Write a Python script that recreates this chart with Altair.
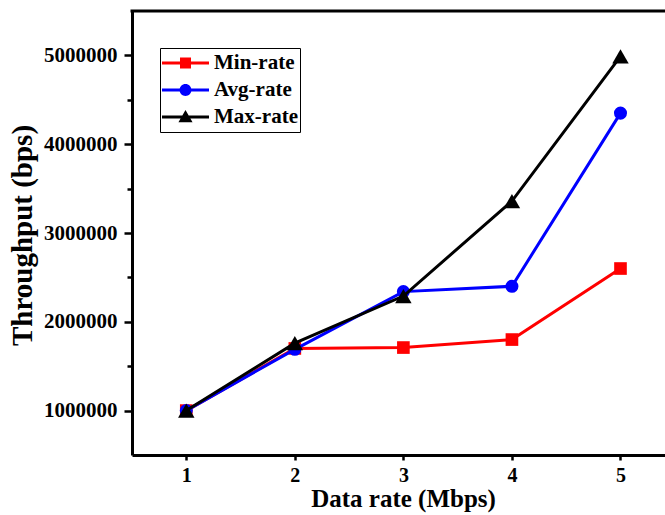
import altair as alt
import pandas as pd

# Throughput measured at each data rate
rates = [1, 2, 3, 4, 5]
min_rate = [1000000, 1700000, 1710000, 1800000, 2600000]
avg_rate = [1000000, 1690000, 2340000, 2400000, 4350000]
max_rate = [1000000, 1760000, 2290000, 3360000, 4990000]

series_names = ["Min-rate", "Avg-rate", "Max-rate"]
series_colors = ["#ff0000", "#0000ff", "#000000"]
series_shapes = ["square", "circle", "triangle-up"]
series_sizes = [160, 170, 270]

y_tick_values = [1000000, 1500000, 2000000, 2500000, 3000000,
                 3500000, 4000000, 4500000, 5000000]

# Legend symbols: a short line with the marker on top (unit square coords)
bar = "M-1,-0.064H1V0.064H-1Z"
legend_paths = [
    bar + "M-0.234,-0.234H0.234V0.234H-0.234Z",
    bar + "M0.255,0A0.255,0.255,0,1,1,-0.255,0A0.255,0.255,0,1,1,0.255,0Z",
    bar + "M0,-0.3L0.3,0.22H-0.3Z",
]

rows = []
for name, vals in zip(series_names, [min_rate, avg_rate, max_rate]):
    for r, v in zip(rates, vals):
        rows.append({"rate": r, "throughput": v, "series": name})
df = pd.DataFrame(rows)

FONT = "Liberation Serif"
W, H = 533, 444

x_enc = alt.X(
    "rate:Q",
    scale=alt.Scale(domain=[0.5, 5.41], nice=False, zero=False),
    axis=alt.Axis(
        values=rates, format="d", title="Data rate (Mbps)",
        labelFontSize=20, labelPadding=5,
        titleFontSize=25, titleX=271, titleY=51, titleBaseline="alphabetic",
    ),
)
y_enc = alt.Y(
    "throughput:Q",
    scale=alt.Scale(domain=[500000, 5500000], nice=False, zero=False),
    axis=alt.Axis(
        values=y_tick_values, format="d", title="Throughput (bps)",
        labelExpr="datum.value % 1000000 === 0 ? datum.label : ''",
        tickSize={"condition": {"test": "datum.value % 1000000 === 0", "value": 8}, "value": 5},
        labelFontSize=21, labelPadding=7,
        titleFontSize=29, titleX=-110, titleY=224, titleBaseline="middle",
    ),
)
color_scale = alt.Scale(domain=series_names, range=series_colors)
color_enc = alt.Color("series:N", scale=color_scale, legend=alt.Legend(title=None))

layers = []
for name, shape, size in zip(series_names, series_shapes, series_sizes):
    sub = alt.Chart(df).transform_filter(alt.datum.series == name)
    layers.append(
        sub.mark_line(strokeWidth=3).encode(x=x_enc, y=y_enc, color=color_enc)
    )
    layers.append(
        sub.mark_point(shape=shape, filled=True, size=size, opacity=1).encode(
            x=x_enc, y=y_enc, color=color_enc
        )
    )

# Legend-only layer (no rows drawn), carrying colour + line/marker symbols
legend_layer = alt.Chart(df).transform_filter("false").mark_point(
    filled=True, opacity=1
).encode(
    x=x_enc, y=y_enc,
    color=color_enc,
    shape=alt.Shape(
        "series:N",
        scale=alt.Scale(domain=series_names, range=legend_paths),
        legend=alt.Legend(title=None),
    ),
)

# Top frame line
top_frame = alt.Chart(pd.DataFrame({"k": [0]})).mark_rule(
    color="black", strokeWidth=3
).encode(x=alt.value(-1.5), x2=alt.value(W + 5), y=alt.value(0))

chart = alt.layer(legend_layer, *layers, top_frame).properties(
    width=W, height=H,
    autosize=alt.AutoSizeParams(type="none"),
    padding={"left": 132, "top": 11, "right": 0, "bottom": 60},
    background="white",
).configure_view(
    stroke=None
).configure_axis(
    grid=False,
    domainColor="black", domainWidth=3,
    tickColor="black", tickWidth=2.5,
    labelFont=FONT, labelFontWeight="bold", labelColor="black",
    titleFont=FONT, titleFontWeight="bold", titleColor="black",
).configure_legend(
    orient="none", legendX=28, legendY=37,
    strokeColor="black", strokeWidth=1, fillColor="white",
    padding=2, clipHeight=26, rowPadding=1,
    symbolSize=2209, symbolStrokeWidth=0, symbolOffset=0,
    labelFont=FONT, labelFontWeight="bold", labelFontSize=21,
    labelColor="black", labelOffset=5, labelLimit=0,
)

chart.save("out.html", embed_options={"renderer": "svg", "actions": False})
